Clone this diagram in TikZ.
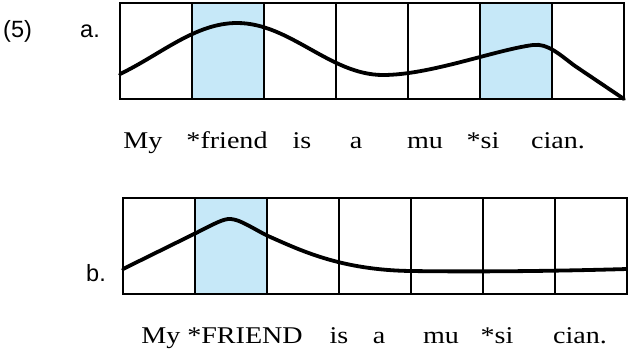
\documentclass[tikz,border=0pt]{standalone}
\usepackage{fontspec}
\setmainfont[FakeStretch=1.17]{Liberation Serif}
\newfontfamily\tagfont{Liberation Sans}
\definecolor{stress}{RGB}{198,232,248}
\tikzset{
  word/.style={anchor=base,inner sep=0pt,font=\fontsize{24}{28}\selectfont},
  tag/.style={anchor=base west,inner sep=0pt,font=\tagfont\fontsize{23.5}{28}\selectfont},
  cell/.style={draw=black,line width=1.6pt},
  contour/.style={line width=3.8pt,line cap=round,line join=round}
}

\begin{document}
\begin{tikzpicture}[x=1pt,y=-1pt]
  \useasboundingbox (0,0) rectangle (628,351);
  % grid corners, top and bottom of each column line
  \foreach \i in {0,...,7} {
    \coordinate (at\i) at ({120+72*\i},3);
    \coordinate (ab\i) at ({120+72*\i},99);
    \coordinate (bt\i) at ({123+72*\i},198);
    \coordinate (bb\i) at ({123+72*\i},294);
  }
  \fill [stress] (at1) rectangle (ab2) (at5) rectangle (ab6);
  \fill [stress] (bt1) rectangle (bb2);
  \draw [cell] (at0) rectangle (ab7);
  \draw [cell] (bt0) rectangle (bb7);
  \foreach \i in {1,...,6} {
    \draw [cell] (at\i) -- (ab\i);
    \draw [cell] (bt\i) -- (bb\i);
  }
  % pitch contours
  \coordinate (pa) at (237,23);
  \coordinate (pb) at (231,219);
  \draw [contour] (at0|-0,74) .. controls (160,55) and (195,23) .. (pa)
    .. controls (290,23) and (330,75) .. (383,75)
    .. controls (430,75) and (495,50) .. (533,45)
    .. controls (548,43) and (560,55) .. (575,66) -- (ab7);
  \draw [contour] (bt0|-0,269) -- (196,233)
    .. controls (212,225) and (224,218) .. (pb)
    .. controls (241,220) and (252,228) .. (268,236)
    .. controls (300,250) and (340,270) .. (411,271)
    .. controls (480,272) and (560,271) .. (627,269);
  \node [tag] (num) at (3,37.7) {(5)};
  \node [tag] (la) at (80,37.7) {a.};
  \node [tag] (lb) at (86,281) {b.};
  \foreach \x/\w [count=\n] in {143/My,227/*friend,302/is,356/a,425/mu,483/*si,558/cian.}
    \node [word] (wa\n) at (\x,148) {\w};
  \foreach \x/\w [count=\n] in {161/My,245/*FRIEND,339/is,379/a,441/mu,497/*si,580/cian.}
    \node [word] (wb\n) at (\x,343) {\w};
\end{tikzpicture}
\end{document}
